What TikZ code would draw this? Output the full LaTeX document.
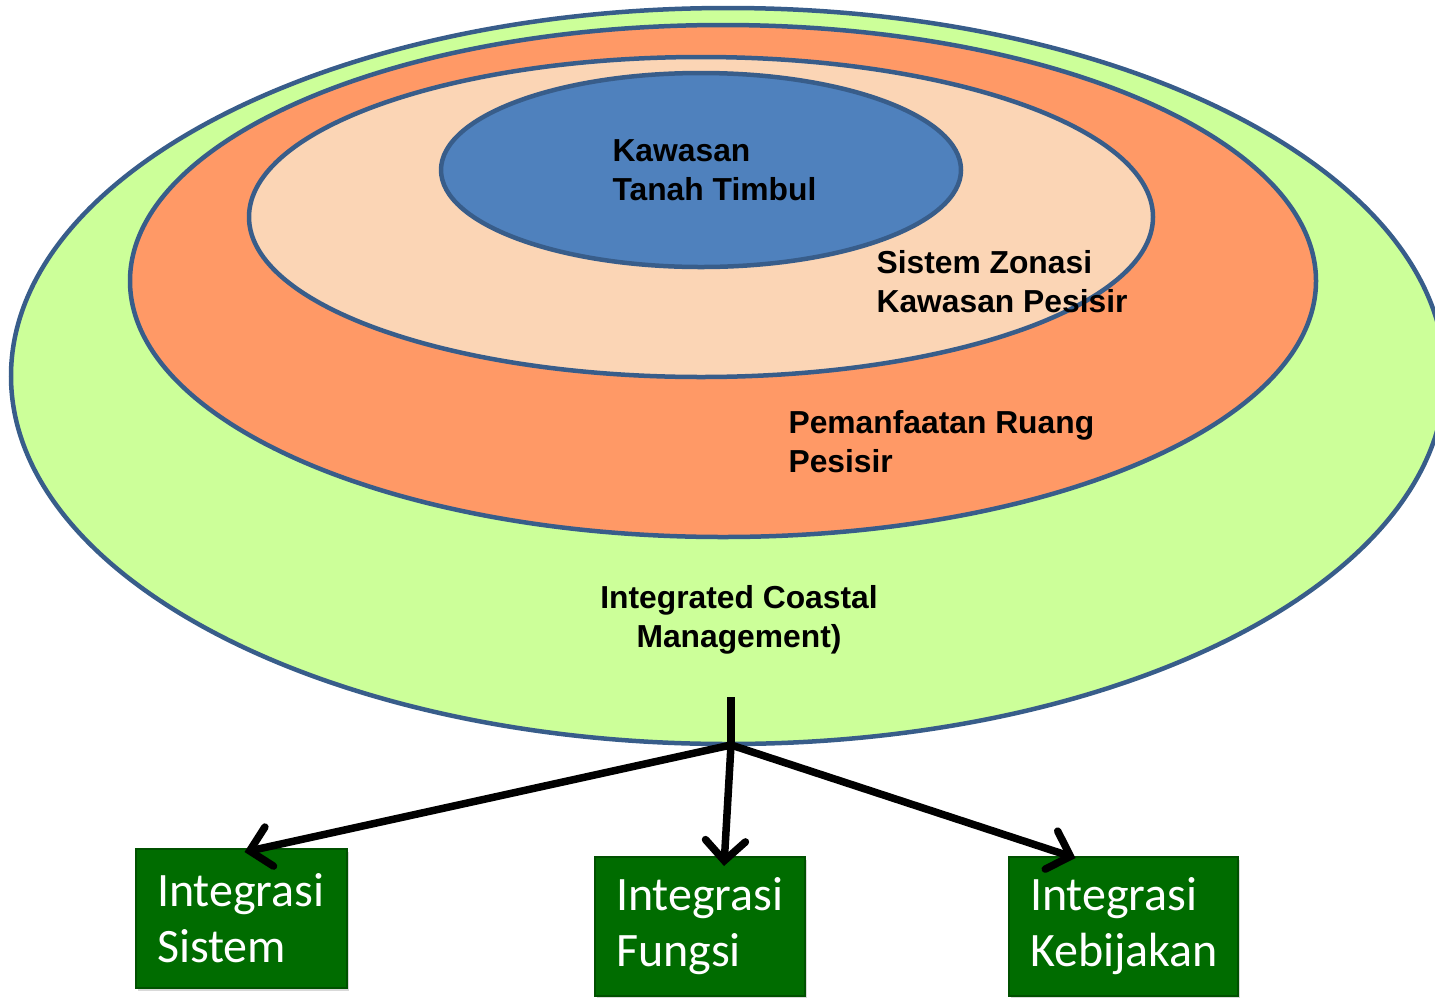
\documentclass[tikz,border=0pt]{standalone}
\usepackage{fontspec}
\setmainfont{Liberation Sans}
\newfontfamily\boxfont{Carlito}
\usetikzlibrary{shapes.geometric,arrows.meta,calc,shadows}

\definecolor{rim}{RGB}{56,93,138}
\definecolor{icmgreen}{RGB}{204,255,153}
\definecolor{ruangorange}{RGB}{255,153,102}
\definecolor{zonapeach}{RGB}{251,213,181}
\definecolor{timbulblue}{RGB}{79,129,189}
\definecolor{boxgreen}{RGB}{0,108,0}

\begin{document}
\begin{tikzpicture}[x=1pt,y=-1pt,
	ring/.style={ellipse,draw=rim,line width=4.5pt,inner sep=0pt},
	lbl/.style={font=\bfseries\fontsize{31.8}{39}\selectfont,align=left},
	intbox/.style={draw=boxgreen!75!black,fill=boxgreen,line width=2pt,text=white,align=left,
		inner xsep=21pt,minimum height=139pt,font=\boxfont\fontsize{48}{56}\selectfont,
		drop shadow={opacity=0.3,shadow xshift=2pt,shadow yshift=-3pt}},
	arr/.style={line width=7.5pt,-{Straight Barb[length=20pt,width=40pt,line cap=round]}}]
	
	\useasboundingbox (0,0) rectangle (1435,997);
	
	% rings
	\node[ring,fill=icmgreen,minimum width=1434pt,minimum height=736pt] (icm) at (728,376) {};
	\node[ring,fill=ruangorange,minimum width=1186pt,minimum height=512pt] (ruang) at (723,281) {};
	\node[ring,fill=zonapeach,minimum width=904pt,minimum height=320pt] (zonasi) at (701,217) {};
	\node[ring,fill=timbulblue,minimum width=520pt,minimum height=194pt] (timbul) at (701,170) {};
	
	\node[lbl,anchor=west] (timbultxt) at (609,170) {Kawasan\\Tanah Timbul};
	\node[lbl,anchor=west] (zonasitxt) at (873,282) {Sistem Zonasi\\Kawasan Pesisir};
	\node[lbl,anchor=west] (ruangtxt) at (785,442) {Pemanfaatan Ruang\\Pesisir};
	\node[lbl,align=center] (icmtxt) at (739,620) {Integrated Coastal\\Management)};
	
	% boxes
	\node[intbox,text width=169pt] (sistem) at (241.5,918.5) {Integrasi\\Sistem};
	\node[intbox,text width=168pt] (fungsi) at (700,926.5) {Integrasi\\Fungsi};
	\node[intbox,text width=187pt] (kebijakan) at (1123.5,926.5) {Integrasi\\Kebijakan};
	
	\coordinate (stem) at (731,697);
	\coordinate (hub) at (731,745);
	\draw[line width=7.5pt] (stem) -- (hub);
	\draw[arr] (hub) -- ($(sistem.north)+(3,4)$);
	\draw[arr] (hub) -- ($(fungsi.north)+(24,10)$);
	\draw[arr] (hub) -- ($(kebijakan.north)+(-48,2)$);
	
\end{tikzpicture}
\end{document}
